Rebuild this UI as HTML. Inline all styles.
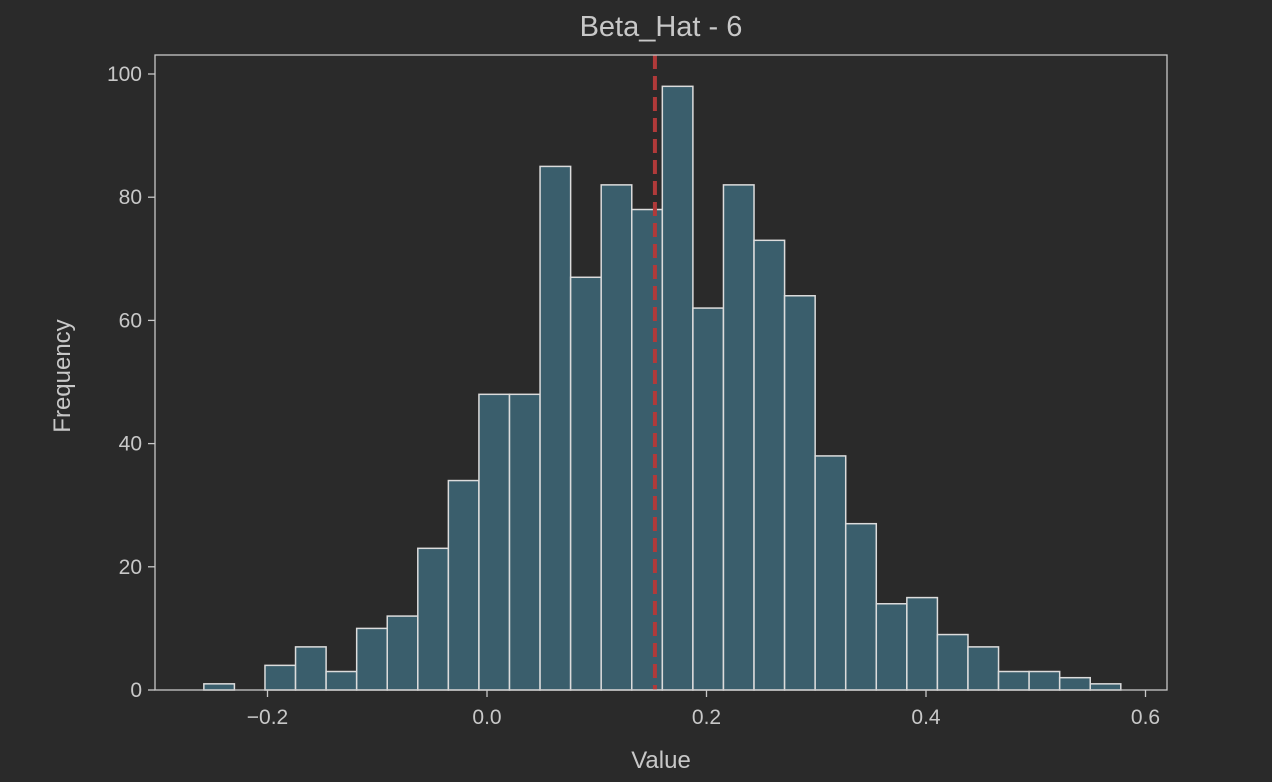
<!DOCTYPE html>
<html><head><meta charset="utf-8"><style>
body{margin:0;background:#2a2a2a;}
svg{display:block;font-family:"Liberation Sans","DejaVu Sans",sans-serif;}
</style></head><body>
<svg id="chart" width="1272" height="782">
<rect x="0" y="0" width="1272" height="782" fill="#2a2a2a"/>
<text x="661" y="36" fill="#c8c8c8" font-size="29" text-anchor="middle">Beta_Hat - 6</text>
<text x="661" y="768" fill="#c8c8c8" font-size="24" text-anchor="middle">Value</text>
<text x="70" y="376" fill="#c8c8c8" font-size="24" text-anchor="middle" transform="rotate(-90 70 376)">Frequency</text>
<g id="bars"></g>
<g id="ticks"></g>
<rect x="155" y="55" width="1012" height="635" fill="none" stroke="#c8c8c8" stroke-width="1.3"/>
</svg>
<script>
const counts=[1,0,4,7,3,10,12,23,34,48,48,85,67,82,78,98,62,82,73,64,38,27,14,15,9,7,3,3,2,1];
const binStart=-0.258;
const binWidth=0.02785;
const meanValue=0.153;
const xTicks=[-0.2,0.0,0.2,0.4,0.6];
const xTickLabels=["\u22120.2","0.0","0.2","0.4","0.6"];
const yTicks=[0,20,40,60,80,100];
const X=v=>487+v*1097.5;
const Y=v=>690-v*6.16;
const NS="http://www.w3.org/2000/svg";
const bars=document.getElementById('bars');
counts.forEach((c,i)=>{
  if(c<=0)return;
  const r=document.createElementNS(NS,'rect');
  const x0=X(binStart+i*binWidth),x1=X(binStart+(i+1)*binWidth);
  r.setAttribute('x',x0);r.setAttribute('width',x1-x0);
  r.setAttribute('y',Y(c));r.setAttribute('height',Y(0)-Y(c));
  r.setAttribute('fill','#3a5e6c');r.setAttribute('stroke','#dcdcdc');r.setAttribute('stroke-width','1.5');
  
  
  bars.appendChild(r);
});
const ml=document.createElementNS(NS,'line');
ml.setAttribute('x1',X(meanValue));ml.setAttribute('x2',X(meanValue));
ml.setAttribute('y1',55);ml.setAttribute('y2',690);
ml.setAttribute('stroke','#b03a3a');ml.setAttribute('stroke-width','4');ml.setAttribute('stroke-dasharray','14 7');


bars.appendChild(ml);
const tk=document.getElementById('ticks');
xTicks.forEach((v,i)=>{
  const l=document.createElementNS(NS,'line');
  l.setAttribute('x1',X(v));l.setAttribute('x2',X(v));l.setAttribute('y1',690);l.setAttribute('y2',697);
  l.setAttribute('stroke','#c8c8c8');l.setAttribute('stroke-width','1.3');
  
  
  tk.appendChild(l);
  const t=document.createElementNS(NS,'text');
  t.setAttribute('x',X(v));t.setAttribute('y',724);t.setAttribute('fill','#c8c8c8');
  t.setAttribute('font-size','21');t.setAttribute('text-anchor','middle');
  t.textContent=xTickLabels[i];
  
  
  tk.appendChild(t);
});
yTicks.forEach(v=>{
  const l=document.createElementNS(NS,'line');
  l.setAttribute('x1',148);l.setAttribute('x2',155);l.setAttribute('y1',Y(v));l.setAttribute('y2',Y(v));
  l.setAttribute('stroke','#c8c8c8');l.setAttribute('stroke-width','1.3');
  
  
  tk.appendChild(l);
  const t=document.createElementNS(NS,'text');
  t.setAttribute('x',142);t.setAttribute('y',Y(v)+7);t.setAttribute('fill','#c8c8c8');
  t.setAttribute('font-size','21');t.setAttribute('text-anchor','end');
  t.textContent=v;
  
  
  tk.appendChild(t);
});
</script>
</body></html>
